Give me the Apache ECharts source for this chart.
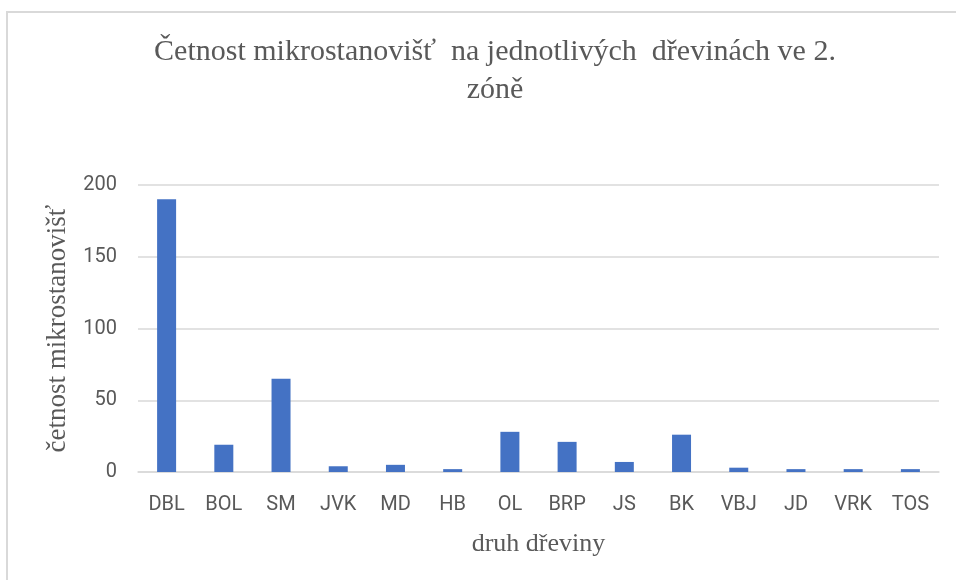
<!DOCTYPE html>
<html>
<head>
<meta charset="utf-8">
<script src="https://cdn.jsdelivr.net/npm/echarts@6/dist/echarts.min.js"></script>
<style>
html,body{margin:0;padding:0;background:#fff;}
#chart{width:956px;height:580px;}
</style>
</head>
<body>
<div id="chart"></div>
<script>
const categories = ['DBL','BOL','SM','JVK','MD','HB','OL','BRP','JS','BK','VBJ','JD','VRK','TOS'];
const values = [190, 19, 65, 4, 5, 2, 28, 21, 7, 26, 3, 2, 2, 2];
const yTicks = [0, 50, 100, 150, 200];

const chart = echarts.init(document.getElementById('chart'), null, {renderer: 'canvas'});
chart.setOption({
  animation: false,
  backgroundColor: '#fff',
  title: {
    text: 'Četnost mikrostanovišť  na jednotlivých  dřevinách ve 2.\nzóně',
    left: 490,
    textAlign: 'center',
    top: 28,
    textStyle: {
      fontFamily: 'Liberation Serif',
      fontWeight: 'normal',
      fontSize: 30,
      color: '#595959',
      lineHeight: 38
    }
  },
  graphic: [{
    type: 'rect',
    shape: {x: 7, y: 12, width: 970, height: 600},
    style: {fill: 'none', stroke: '#d9d9d9', lineWidth: 2},
    silent: true
  }],
  grid: {left: 138, right: 17, top: 185, bottom: 108, containLabel: false},
  xAxis: {
    type: 'category',
    data: categories,
    name: 'druh dřeviny',
    nameLocation: 'middle',
    nameGap: 59,
    nameTextStyle: {fontFamily: 'Liberation Serif', fontSize: 26, color: '#595959'},
    axisLine: {lineStyle: {color: '#d9d9d9', width: 1.5}},
    axisTick: {show: false},
    axisLabel: {fontFamily: 'Roboto', fontSize: 20, color: '#595959', margin: 23}
  },
  yAxis: {
    type: 'value',
    min: yTicks[0],
    max: yTicks[yTicks.length - 1],
    interval: 50,
    name: 'četnost mikrostanovišť',
    nameLocation: 'middle',
    nameGap: 67,
    nameRotate: 90,
    nameTextStyle: {fontFamily: 'Liberation Serif', fontSize: 27, color: '#595959'},
    axisLine: {show: false},
    axisTick: {show: false},
    splitLine: {lineStyle: {color: '#d9d9d9', width: 1.5}},
    axisLabel: {fontFamily: 'Roboto', fontSize: 20, color: '#595959', margin: 21}
  },
  series: [{
    type: 'bar',
    data: values,
    barWidth: 19,
    itemStyle: {color: '#4472C4'}
  }]
});
</script>
</body>
</html>
